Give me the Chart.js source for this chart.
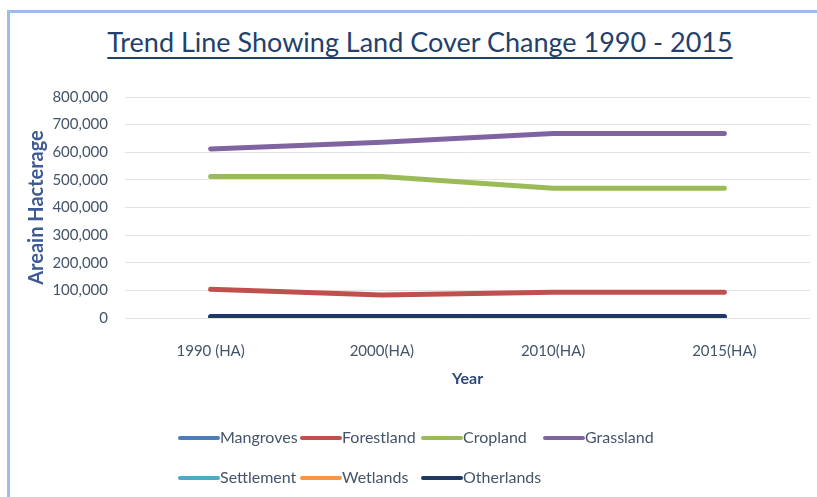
<!DOCTYPE html>
<html>
<head>
<meta charset="utf-8">
<script src="https://cdn.jsdelivr.net/npm/chart.js@4.4.1/dist/chart.umd.min.js"></script>
<style>
  html, body { margin: 0; padding: 0; background: #fff; overflow: hidden; }
  #wrap { position: relative; width: 817px; height: 497px; }
  #frame {
    position: absolute; left: 7px; top: 10px; width: 900px; height: 600px;
    border: 3px solid #9cbde8; box-sizing: border-box;
  }
  #title {
    position: absolute; left: 0; top: 25px; width: 840px; text-align: center;
    font-family: Lato, sans-serif; font-size: 27px; color: #233f6b;
    text-decoration: underline; text-decoration-thickness: 2px; text-underline-offset: 5px;
  }
  #myChart { position: absolute; left: 0; top: 0; }
</style>
</head>
<body>
<div id="wrap">
  <div id="frame"></div>
  <div id="title">Trend Line Showing Land Cover Change 1990 - 2015</div>
  <canvas id="myChart" width="817" height="497"></canvas>
</div>
<script>
// land cover area (hectares) per survey year
var years = ["1990 (HA)", "2000(HA)", "2010(HA)", "2015(HA)"];
var mangroves  = [1500, 1500, 1500, 1500];
var forestland = [104000, 83000, 93000, 93000];
var cropland   = [512000, 512000, 470000, 470000];
var grassland  = [612000, 636000, 668000, 668000];
var settlement = [3000, 3500, 4000, 4000];
var wetlands   = [2500, 2500, 2500, 2500];
var otherlands = [5000, 5000, 5000, 5000];

var seriesNames  = ["Mangroves", "Forestland", "Cropland", "Grassland", "Settlement", "Wetlands", "Otherlands"];
var seriesData   = [mangroves, forestland, cropland, grassland, settlement, wetlands, otherlands];
var seriesColors = ['#4a7ebb', '#c0504d', '#9bbb59', '#8064a2', '#4bacc6', '#f79646', '#1f3864'];

var textColor = '#44546a';

// excel style legend, laid out as a grid of 4 columns
var gridLegend = {
  id: 'gridLegend',
  afterDraw: function (chart) {
    var ctx = chart.ctx;
    var cols = [180, 302, 423, 545];
    var rows = [438, 478];
    ctx.save();
    ctx.font = '16px Lato, sans-serif';
    ctx.textBaseline = 'middle';
    ctx.textAlign = 'left';
    chart.data.datasets.forEach(function (ds, i) {
      var x = cols[i % 4];
      var y = rows[Math.floor(i / 4)];
      ctx.strokeStyle = ds.borderColor;
      ctx.lineWidth = 4;
      ctx.lineCap = 'round';
      ctx.beginPath();
      ctx.moveTo(x, y);
      ctx.lineTo(x + 38, y);
      ctx.stroke();
      ctx.fillStyle = textColor;
      ctx.fillText(ds.label, x + 40, y);
    });
    ctx.restore();
  }
};

var datasets = seriesNames.map(function (name, i) {
  return {
    label: name,
    data: seriesData[i],
    borderColor: seriesColors[i],
    backgroundColor: seriesColors[i],
    borderWidth: 5,
    pointRadius: 0,
    pointHoverRadius: 0,
    tension: 0,
    borderCapStyle: 'round',
    order: name === 'Otherlands' ? 0 : i + 1
  };
});

var el = document.getElementById('myChart');
var myChart = new Chart(el, {
  type: 'line',
  data: { labels: years, datasets: datasets },
  plugins: [gridLegend],
  options: {
    responsive: false,
    animation: false,
    layout: { padding: { top: 97, right: 7, bottom: 105, left: 0 } },
    plugins: {
      legend: { display: false },
      tooltip: { enabled: false }
    },
    scales: {
      x: {
        offset: true,
        grid: { display: false, drawTicks: false },
        border: { display: false },
        ticks: { color: textColor, font: { family: 'Lato', size: 15 }, padding: 24 },
        title: { display: true, text: 'Year', color: '#2f4a7a', font: { family: 'Lato', size: 16, weight: 'bold' } },
        afterFit: function (scale) { scale.height = 74; }
      },
      y: {
        min: 0,
        max: 800000,
        ticks: {
          stepSize: 100000,
          color: textColor,
          font: { family: 'Lato', size: 15 },
          padding: 17,
          callback: function (v) { return v.toLocaleString('en-US'); }
        },
        grid: { color: '#e3e3e3', lineWidth: 1, drawTicks: false },
        border: { display: false },
        title: {
          display: true, text: 'Areain Hacterage', color: '#3d5a94',
          font: { family: 'Lato', size: 20, weight: 'bold' },
          padding: { top: 25, bottom: 4 }
        },
        afterFit: function (scale) { scale.width = 125; }
      }
    }
  }
});
</script>
</body>
</html>
